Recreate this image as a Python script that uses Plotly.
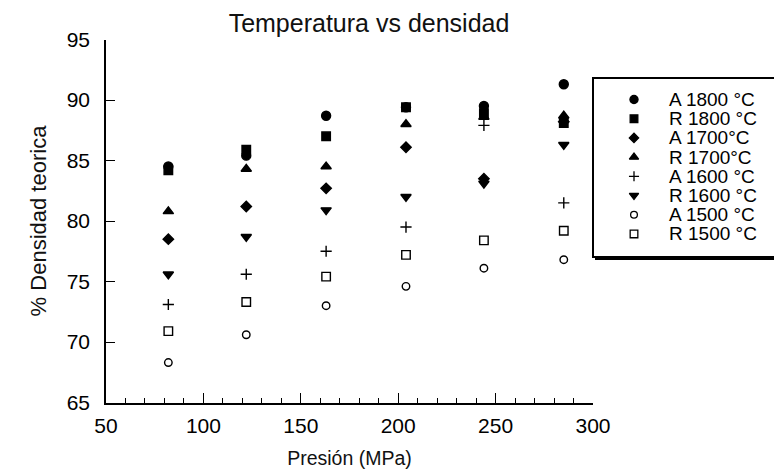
import plotly.graph_objects as go

# ---------------- data ----------------
pressure = [82, 122, 163, 204, 244, 285]

series_names = ["A 1800 °C", "R 1800 °C", "A 1700°C", "R 1700°C",
                "A 1600 °C", "R 1600 °C", "A 1500 °C", "R 1500 °C"]

a1800 = [84.5, 85.4, 88.7, 89.4, 89.5, 91.3]
r1800 = [84.2, 85.9, 87.0, 89.4, 88.9, 88.1]
a1700 = [78.5, 81.2, 82.7, 86.1, 83.5, 88.2]
r1700 = [80.8, 84.3, 84.5, 88.0, 88.6, 88.7]
a1600 = [73.1, 75.6, 77.5, 79.5, 87.9, 81.5]
r1600 = [75.6, 78.7, 80.9, 82.0, 83.1, 86.3]
a1500 = [68.3, 70.6, 73.0, 74.6, 76.1, 76.8]
r1500 = [70.9, 73.3, 75.4, 77.2, 78.4, 79.2]

x_ticks = [50, 100, 150, 200, 250, 300]
y_ticks = [65, 70, 75, 80, 85, 90, 95]

# ---------------- styles ----------------
values = [a1800, r1800, a1700, r1700, a1600, r1600, a1500, r1500]
symbols = ["circle", "square", "diamond", "triangle-up",
           "cross-thin", "triangle-down", "circle-open", "square-open"]
sizes = [9, 8.5, 8, 9, 8, 9, 7.5, 8.5]

W, H = 774, 475
L, R, T, B = 106, 181, 39.5, 72.5

fig = go.Figure()

for name, vals, sym, sz in zip(series_names, values, symbols, sizes):
    fig.add_trace(go.Scatter(
        x=pressure, y=vals, mode="markers", name=name, showlegend=False,
        marker=dict(symbol=sym, size=sz, color="black",
                    line=dict(color="black", width=1.4)),
        cliponaxis=False,
    ))

# ---------------- hand-made legend (box, keys, labels) ----------------
# drawn on a helper subplot that spans the whole page in pixel units
leg_left, leg_top, leg_bottom, leg_right = 593, 78, 257, 800
row0, row_gap = 99.5, 19.2
key_x, text_x = 634, 667

fig.add_shape(type="rect", xref="x2", yref="y2",
              x0=leg_left + 2, x1=leg_right + 5, y0=leg_top + 2, y1=leg_bottom + 3,
              fillcolor="black", line=dict(width=0), layer="below")
fig.add_shape(type="rect", xref="x2", yref="y2",
              x0=leg_left, x1=leg_right, y0=leg_top, y1=leg_bottom,
              fillcolor="white", line=dict(color="black", width=2), layer="below")

rows_px = [row0 + i * row_gap for i in range(len(series_names))]
for i, (name, sym, sz) in enumerate(zip(series_names, symbols, sizes)):
    fig.add_trace(go.Scatter(
        x=[key_x], y=[rows_px[i]], xaxis="x2", yaxis="y2",
        mode="markers", showlegend=False, hoverinfo="skip", cliponaxis=False,
        marker=dict(symbol=sym, size=sz * 0.9, color="black",
                    line=dict(color="black", width=1.3)),
    ))
    fig.add_annotation(
        x=text_x, y=rows_px[i], xref="x2", yref="y2",
        text=name, showarrow=False, xanchor="left", yanchor="middle",
        font=dict(family="Liberation Sans, Arial", size=19, color="black"),
    )

fig.update_layout(
    width=W, height=H,
    margin=dict(l=0, r=0, t=0, b=0, autoexpand=False),
    paper_bgcolor="white", plot_bgcolor="rgba(0,0,0,0)",
    font=dict(family="Liberation Sans, Arial", color="black"),
    title=dict(text="Temperatura vs densidad", x=369 / W, xref="paper",
               xanchor="center", y=1 - 23.5 / H, yanchor="middle",
               font=dict(size=25, color="#111111")),
    xaxis=dict(
        domain=[L / W, (W - R) / W], anchor="y",
        range=[50, 300], tickvals=x_ticks, showgrid=False, zeroline=False,
        showline=True, linecolor="black", linewidth=1.5,
        ticks="inside", ticklen=10, tickwidth=1.3, tickcolor="black",
        minor=dict(dtick=10, ticks="inside", ticklen=5, tickwidth=1.1,
                   tickcolor="black", showgrid=False),
        tickfont=dict(size=21, color="black"), ticklabelstandoff=4,
        title=dict(text="Presión (MPa)", font=dict(size=19.5, color="#111111"),
                   standoff=15),
    ),
    yaxis=dict(
        domain=[B / H, (H - T) / H], anchor="x",
        range=[65, 95], tickvals=y_ticks, showgrid=False, zeroline=False,
        showline=True, linecolor="black", linewidth=1.5,
        ticks="inside", ticklen=9, tickwidth=1.3, tickcolor="black",
        tickfont=dict(size=21, color="black"), ticklabelstandoff=10,
        title=dict(text="% Densidad teorica", font=dict(size=22, color="#111111"),
                   standoff=14),
    ),
    xaxis2=dict(domain=[0, 1], anchor="y2", range=[0, W], visible=False,
                fixedrange=True),
    yaxis2=dict(domain=[0, 1], anchor="x2", range=[H, 0], visible=False,
                fixedrange=True),
)

fig.write_html("out.html")
